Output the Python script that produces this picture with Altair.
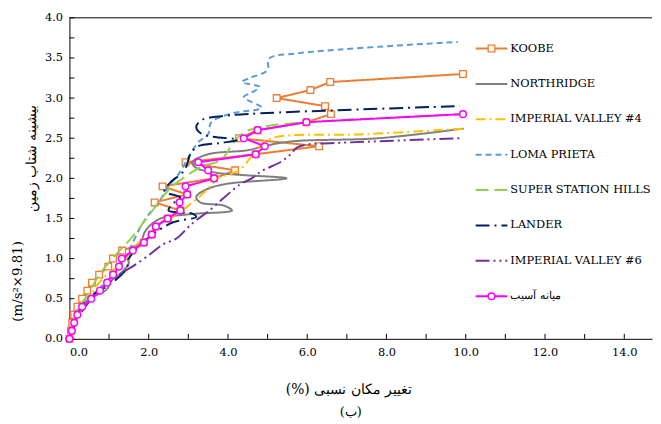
import altair as alt
import pandas as pd

FONT = "DejaVu Serif"

names = ["KOOBE", "NORTHRIDGE", "IMPERIAL VALLEY #4", "LOMA PRIETA",
         "SUPER STATION HILLS", "LANDER", "IMPERIAL VALLEY #6", "میانه آسیب"]
colors = ["#ED7D31", "#7F7F7F", "#FFC000", "#5B9BD5",
          "#92D050", "#002060", "#7030A0", "#FF00FF"]
dashes = [[1, 0], [1, 0], [10, 4, 2, 4], [6, 4],
          [13, 6], [14, 5, 2, 5], [14, 4, 2, 4, 2, 4], [1, 0]]

koobe_y = [round(0.1 * i, 1) for i in range(34)]
koobe_x = [0.0, 0.04, 0.07, 0.12, 0.2, 0.32, 0.45, 0.57, 0.75, 0.98, 1.1, 1.33,
           1.88, 2.08, 2.18, 2.48, 2.8, 2.15, 2.97, 2.35, 3.65, 4.18, 2.93, 4.7,
           6.3, 4.28, 4.75, 5.98, 6.6, 6.45, 5.23, 6.08, 6.58, 9.93]

nr_x = [0.0, 0.15, 0.3, 0.6, 0.95, 1.05, 1.25, 1.45, 1.5, 1.45, 1.6, 1.8, 1.9, 2.05,
        2.3, 2.6, 3.2, 4.1, 3.9, 3.3, 3.2, 3.45, 3.95, 5.48, 4.4, 3.7, 3.2, 3.1,
        3.5, 4.5, 4.9, 5.6, 7.8, 9.95]
nr_y = [0.0, 0.2, 0.38, 0.52, 0.62, 0.72, 0.8, 0.9, 0.95, 1.02, 1.1, 1.2, 1.33, 1.42,
        1.5, 1.53, 1.56, 1.6, 1.66, 1.7, 1.77, 1.86, 1.93, 2.0, 2.04, 2.07, 2.13, 2.2,
        2.3, 2.35, 2.4, 2.46, 2.5, 2.62]

iv4_x = [0.0, 0.1, 0.3, 0.57, 0.7, 0.9, 1.1, 1.25, 1.5, 1.75, 2.07, 2.28, 2.55, 2.8,
         3.0, 3.35, 3.55, 3.75, 4.15, 4.4, 4.55, 4.75, 5.1, 7.5, 9.95]
iv4_y = [0.0, 0.2, 0.45, 0.57, 0.67, 0.78, 0.86, 0.9, 1.05, 1.2, 1.33, 1.45, 1.5, 1.58,
         1.66, 1.8, 1.9, 2.0, 2.07, 2.15, 2.25, 2.38, 2.5, 2.55, 2.62]

lp_x = [0.0, 0.1, 0.3, 0.6, 0.9, 1.2, 1.4, 1.6, 1.8, 2.0, 2.25, 2.5, 2.75, 2.9, 3.05,
        3.25, 3.5, 3.58, 4.1, 4.85, 4.4, 4.6, 4.8, 4.35, 4.55, 5.0, 5.03, 5.8, 9.8]
lp_y = [0.0, 0.2, 0.4, 0.55, 0.7, 0.85, 1.0, 1.2, 1.4, 1.55, 1.7, 1.9, 2.05, 2.17, 2.3,
        2.45, 2.55, 2.7, 2.81, 2.88, 3.01, 3.07, 3.14, 3.2, 3.25, 3.35, 3.49, 3.56, 3.7]

ssh_x = [0.0, 0.1, 0.2, 0.4, 0.55, 0.83, 1.23, 1.55, 1.95, 2.28, 2.57, 2.95, 3.35,
         3.8, 3.95, 4.1, 4.4, 4.85, 6.0, 9.95]
ssh_y = [0.0, 0.2, 0.35, 0.5, 0.63, 0.85, 1.08, 1.25, 1.5, 1.72, 1.89, 2.03, 2.15,
         2.22, 2.3, 2.42, 2.57, 2.64, 2.7, 2.8]

ld_x = [0.0, 0.1, 0.3, 0.6, 0.93, 1.2, 1.45, 1.5, 1.85, 2.1, 2.6, 3.2, 3.1, 2.5, 2.65,
        2.8, 2.4, 2.55, 2.85, 2.95, 3.05, 3.25, 3.8, 4.25, 3.35, 3.2, 3.35, 3.95, 4.8, 9.85]
ld_y = [0.0, 0.15, 0.4, 0.55, 0.65, 0.75, 0.88, 1.0, 1.2, 1.3, 1.45, 1.52, 1.56, 1.6, 1.7,
        1.76, 1.84, 1.95, 2.07, 2.15, 2.3, 2.4, 2.44, 2.48, 2.55, 2.64, 2.73, 2.78, 2.81, 2.9]

iv6_x = [0.0, 0.15, 0.4, 0.75, 1.05, 1.38, 1.62, 2.05, 2.37, 2.7, 3.08, 3.53, 3.95,
         4.32, 4.6, 4.85, 5.35, 5.58, 5.73, 5.98, 6.7, 9.85]
iv6_y = [0.0, 0.2, 0.4, 0.6, 0.72, 0.84, 0.91, 1.06, 1.18, 1.25, 1.43, 1.6, 1.78,
         1.93, 2.0, 2.09, 2.21, 2.3, 2.38, 2.42, 2.44, 2.5]

mean_y = [round(0.1 * i, 1) for i in range(29)]
mean_x = [0.0, 0.06, 0.12, 0.2, 0.32, 0.55, 0.77, 0.95, 1.1, 1.25, 1.32, 1.6, 1.88,
          2.08, 2.18, 2.48, 2.8, 2.78, 2.97, 2.93, 3.65, 3.5, 3.25, 4.7, 4.93, 4.4,
          4.75, 5.98, 9.93]

x_label_values = [0, 2, 4, 6, 8, 10, 12, 14]
y_label_values = [0, 0.5, 1, 1.5, 2, 2.5, 3, 3.5, 4]
x_tick_values = list(range(15))
y_tick_values = [0.25 * i for i in range(17)]

y_title_units = "(m/s²×9.81)"
y_title_fa = "بیشینه شتاب زمین"
x_title = "(%) تغییر مکان نسبی"
sub_title = "(ب)"

W, H = 588, 324
XMAX = 14.7

x_axis = alt.Axis(values=x_label_values, format=".1f", ticks=False, grid=False,
                  domainColor="black", labelFont=FONT, labelFontSize=11.5,
                  labelColor="black", labelPadding=8, title=None)
y_axis = alt.Axis(values=y_label_values, format=".1f", ticks=False, grid=False,
                  domainColor="black", labelFont=FONT, labelFontSize=11.5,
                  labelColor="black", labelPadding=7, title=None)


def xe(f):
    return alt.X(f"{f}:Q", scale=alt.Scale(domain=[0, XMAX], nice=False, zero=False), axis=x_axis)


def ye(f):
    return alt.Y(f"{f}:Q", scale=alt.Scale(domain=[0, 4], nice=False, zero=False), axis=y_axis)


one = pd.DataFrame({"k": [0]})

xt = alt.Chart(pd.DataFrame({"v": x_tick_values})).mark_rule(color="black").encode(
    x=xe("v"), y=alt.value(H), y2=alt.value(H - 5))
yt = alt.Chart(pd.DataFrame({"v": y_tick_values})).mark_rule(color="black").encode(
    y=ye("v"), x=alt.value(0), x2=alt.value(5))
top = alt.Chart(one).mark_rule(color="black").encode(
    x=alt.value(0), x2=alt.value(W), y=alt.value(0))

series = [
    (koobe_x, koobe_y, "linear"),
    (nr_x, nr_y, "catmull-rom"),
    (iv4_x, iv4_y, "catmull-rom"),
    (lp_x, lp_y, "catmull-rom"),
    (ssh_x, ssh_y, "catmull-rom"),
    (ld_x, ld_y, "catmull-rom"),
    (iv6_x, iv6_y, "catmull-rom"),
    (mean_x, mean_y, "linear"),
]

layers = [xt, yt, top]
for i, (xs, ys, interp) in enumerate(series):
    df = pd.DataFrame({"x": xs, "y": ys, "i": list(range(len(xs)))})
    layers.append(alt.Chart(df).mark_line(color=colors[i], strokeDash=dashes[i],
                                           strokeWidth=2, interpolate=interp, clip=True).encode(
        x=xe("x"), y=ye("y"), order="i:Q"))
    if i == 0:
        layers.append(alt.Chart(df).mark_point(shape="square", filled=True, fill="white",
                                                stroke=colors[i], strokeWidth=1.3, size=45,
                                                opacity=1).encode(x=xe("x"), y=ye("y")))
    if i == 7:
        layers.append(alt.Chart(df).mark_point(shape="circle", filled=True, fill="white",
                                                stroke=colors[i], strokeWidth=1.5, size=45,
                                                opacity=1).encode(x=xe("x"), y=ye("y")))

layers.append(alt.Chart(pd.DataFrame({"t": [y_title_units]})).mark_text(
    font=FONT, fontSize=13.5, angle=270, align="center", baseline="middle", color="black").encode(
    x=alt.value(-52), y=alt.value(266), text="t:N"))
layers.append(alt.Chart(pd.DataFrame({"t": [y_title_fa]})).mark_text(
    font=FONT, fontSize=14, angle=270, align="center", baseline="middle", color="black").encode(
    x=alt.value(-38), y=alt.value(142), text="t:N"))
layers.append(alt.Chart(pd.DataFrame({"t": [x_title]})).mark_text(
    font=FONT, fontSize=14, align="center", baseline="middle", color="black").encode(
    x=alt.value(282), y=alt.value(376), text="t:N"))
layers.append(alt.Chart(pd.DataFrame({"t": [sub_title]})).mark_text(
    font=FONT, fontSize=13, align="center", baseline="middle", color="black").encode(
    x=alt.value(284), y=alt.value(398), text="t:N"))

data_group = alt.layer(*layers)

leg_df = pd.DataFrame({"name": names})
yleg = alt.Y("name:N", scale=alt.Scale(type="point", domain=names, range=[31, 281], padding=0),
             axis=None)
cleg = alt.Color("name:N", scale=alt.Scale(domain=names, range=colors), legend=None)
dleg = alt.StrokeDash("name:N", scale=alt.Scale(domain=names, range=dashes), legend=None)

leg_rule = alt.Chart(leg_df).mark_rule(strokeWidth=2).encode(
    x=alt.value(410), x2=alt.value(442), y=yleg, color=cleg, strokeDash=dleg)
leg_sq = alt.Chart(leg_df).transform_filter(alt.datum.name == names[0]).mark_point(
    shape="square", filled=True, fill="white", stroke=colors[0], strokeWidth=1.3, size=45,
    opacity=1).encode(x=alt.value(426), y=yleg)
leg_ci = alt.Chart(leg_df).transform_filter(alt.datum.name == names[7]).mark_point(
    shape="circle", filled=True, fill="white", stroke=colors[7], strokeWidth=1.5, size=45,
    opacity=1).encode(x=alt.value(426), y=yleg)
leg_text = alt.Chart(leg_df).mark_text(align="left", baseline="middle", font=FONT,
                                       fontSize=11.5, color="black").encode(
    x=alt.value(445), y=yleg, text="name:N")

legend_group = alt.layer(leg_rule, leg_sq, leg_ci, leg_text)

chart = alt.layer(data_group, legend_group).resolve_scale(
    y="independent", color="independent", strokeDash="independent"
).properties(
    width=W, height=H, padding={"left": 3, "top": 2, "right": 0, "bottom": 0}
).configure_view(stroke=None)

chart.save("out.html", embed_options={"renderer": "svg", "actions": False})
